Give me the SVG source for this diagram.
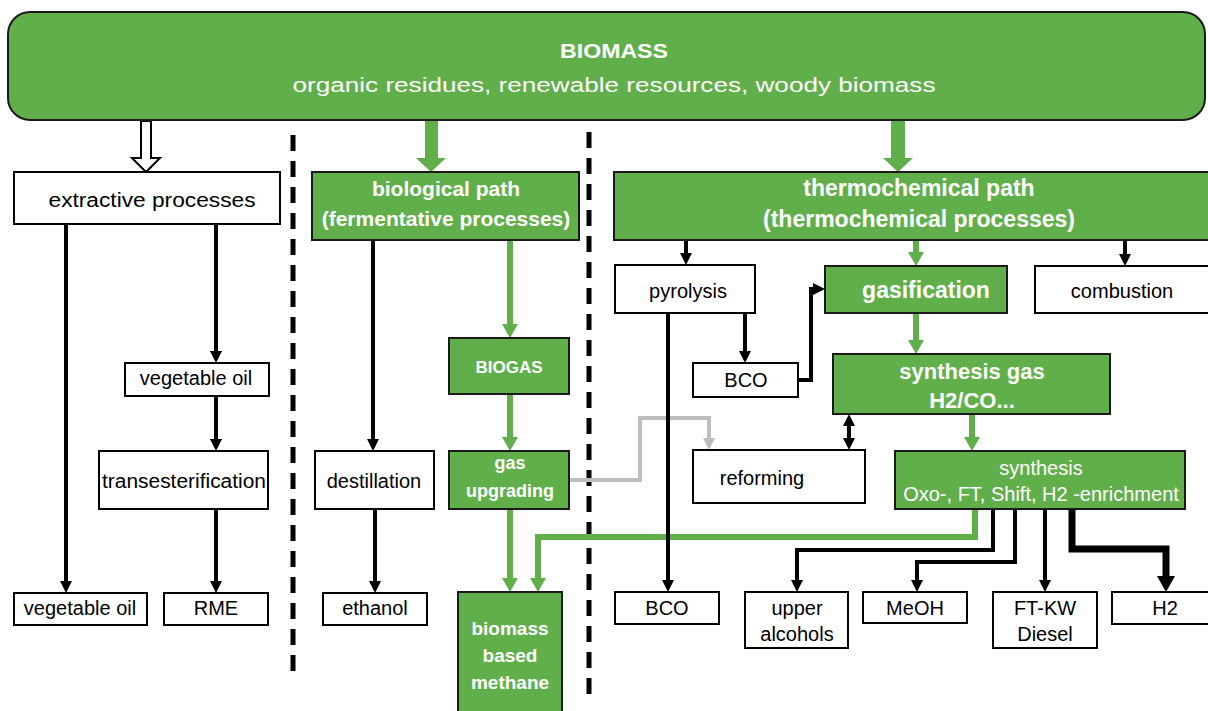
<svg xmlns="http://www.w3.org/2000/svg" width="1208" height="711" viewBox="0 0 1208 711">
<style>
  .wb { fill: #ffffff; stroke: #000000; stroke-width: 2; }
  .gb { fill: #61af4b; stroke: #1a1a1a; stroke-width: 2; }
  text { font-family: "Liberation Sans", Arial, sans-serif; text-anchor: middle; }
  .t { font-size: 20px; fill: #000000; }
  .tw { font-size: 20px; fill: #ffffff; }
  .bw { font-weight: bold; fill: #ffffff; }
  .blk { fill: none; stroke: #000000; stroke-width: 4; marker-end: url(#ab); }
  .grn { fill: none; stroke: #61af4b; stroke-width: 6; marker-end: url(#ag); }
  .gry { fill: none; stroke: #bdbdbd; stroke-width: 4; marker-end: url(#ay); }
  .dash { fill: none; stroke: #000000; stroke-width: 5; stroke-dasharray: 16 10; }
</style>
<defs>
  <marker id="ab" markerUnits="userSpaceOnUse" markerWidth="12" markerHeight="12" refX="6" refY="6" orient="auto-start-reverse">
    <path d="M0,0 L12,6 L0,12 z" fill="#000000"/>
  </marker>
  <marker id="ay" markerUnits="userSpaceOnUse" markerWidth="12" markerHeight="12" refX="6" refY="6" orient="auto">
    <path d="M0,0 L12,6 L0,12 z" fill="#bdbdbd"/>
  </marker>
  <marker id="ag" markerUnits="userSpaceOnUse" markerWidth="14" markerHeight="16" refX="7" refY="8" orient="auto">
    <path d="M0,0 L14,8 L0,16 z" fill="#61af4b"/>
  </marker>
  <marker id="abig" markerUnits="userSpaceOnUse" markerWidth="16" markerHeight="18" refX="8" refY="9" orient="auto">
    <path d="M0,0 L16,9 L0,18 z" fill="#000000"/>
  </marker>
</defs>
<rect width="1208" height="711" fill="#ffffff"/>

<g id="dividers">
  <path class="dash" d="M293,135 V680"/>
  <path class="dash" d="M589,132 V695"/>
</g>

<g id="connectors">
  <polygon points="141,121 151,121 151,158 160,158 146,172 132,158 141,158" fill="#ffffff" stroke="#000000" stroke-width="2"/>
  <polygon points="425,119 438,119 438,158 446,158 431,172 416,158 425,158" fill="#61af4b"/>
  <polygon points="891,119 905,119 905,158 913,158 898,172 883,158 891,158" fill="#61af4b"/>
  <path class="gry" d="M569,480 H640 V418 H709 V444"/>
  <path class="grn" d="M510,240 V331"/>
  <path class="grn" d="M510,394 V444"/>
  <path class="grn" d="M510,509 V585"/>
  <path class="grn" d="M916,240 V259"/>
  <path class="grn" d="M916,313 V347"/>
  <path class="grn" d="M972,414 V444"/>
  <path class="grn" d="M975,509 V537 H538 V585"/>
  <path class="blk" d="M66,224 V587"/>
  <path class="blk" d="M216,224 V357"/>
  <path class="blk" d="M216,396 V445"/>
  <path class="blk" d="M216,509 V587"/>
  <path class="blk" d="M373,240 V445"/>
  <path class="blk" d="M375,509 V587"/>
  <path class="blk" d="M686,240 V259"/>
  <path class="blk" d="M1125,240 V260"/>
  <path class="blk" d="M668,313 V586"/>
  <path class="blk" d="M745,313 V357"/>
  <path class="blk" d="M798,380 H811 V289 H819"/>
  <path class="blk" d="M849,420 V444" marker-start="url(#ab)"/>
  <path class="blk" d="M993,509 V550 H797 V586"/>
  <path class="blk" d="M1015,509 V562 H917 V586"/>
  <path class="blk" d="M1045,509 V586"/>
  <path d="M1072,509 V549 H1166 V584" fill="none" stroke="#000000" stroke-width="7" marker-end="url(#abig)"/>
</g>

<g id="biomass">
  <rect class="gb" x="8" y="12" width="1197" height="108" rx="22"/>
  <text class="bw" x="614" y="58" font-size="21" textLength="108" lengthAdjust="spacingAndGlyphs">BIOMASS</text>
  <text class="tw" x="614" y="92" font-size="24" textLength="643" lengthAdjust="spacingAndGlyphs">organic residues, renewable resources, woody biomass</text>
</g>

<g id="extractive">
  <rect class="wb" x="14" y="172" width="266" height="52"/>
  <text class="t" x="152" y="207" font-size="23" textLength="207" lengthAdjust="spacingAndGlyphs">extractive processes</text>
</g>
<g id="vegoil-mid">
  <rect class="wb" x="125" y="363" width="144" height="33"/>
  <text class="t" x="196" y="385">vegetable oil</text>
</g>
<g id="transesterification">
  <rect class="wb" x="99" y="451" width="169" height="58"/>
  <text class="t" x="184" y="488" font-size="21" textLength="164" lengthAdjust="spacingAndGlyphs">transesterification</text>
</g>
<g id="vegoil-out">
  <rect class="wb" x="14" y="593" width="133" height="32"/>
  <text class="t" x="80" y="615">vegetable oil</text>
</g>
<g id="rme">
  <rect class="wb" x="164" y="593" width="104" height="32"/>
  <text class="t" x="216" y="615">RME</text>
</g>

<g id="biological">
  <rect class="gb" x="312" y="172" width="267" height="68"/>
  <text class="bw" x="446" y="196" font-size="21">biological path</text>
  <text class="bw" x="446" y="226" font-size="21">(fermentative processes)</text>
</g>
<g id="biogas">
  <rect class="gb" x="449" y="338" width="120" height="56"/>
  <text class="bw" x="509" y="373" font-size="17">BIOGAS</text>
</g>
<g id="gas-upgrading">
  <rect class="gb" x="449" y="451" width="120" height="58"/>
  <text class="bw" x="510" y="469" font-size="18">gas</text>
  <text class="bw" x="510" y="497" font-size="18">upgrading</text>
</g>
<g id="destillation">
  <rect class="wb" x="315" y="451" width="119" height="58"/>
  <text class="t" x="374" y="488">destillation</text>
</g>
<g id="ethanol">
  <rect class="wb" x="323" y="593" width="104" height="32"/>
  <text class="t" x="375" y="615">ethanol</text>
</g>
<g id="methane">
  <rect class="gb" x="458" y="592" width="104" height="130"/>
  <text class="bw" x="510" y="635" font-size="19">biomass</text>
  <text class="bw" x="510" y="662" font-size="19">based</text>
  <text class="bw" x="510" y="689" font-size="19">methane</text>
</g>

<g id="thermochemical">
  <rect class="gb" x="614" y="172" width="600" height="68"/>
  <text class="bw" x="919" y="196" font-size="23">thermochemical path</text>
  <text class="bw" x="919" y="227" font-size="23">(thermochemical processes)</text>
</g>
<g id="pyrolysis">
  <rect class="wb" x="615" y="265" width="140" height="48"/>
  <text class="t" x="688" y="298">pyrolysis</text>
</g>
<g id="gasification">
  <rect class="gb" x="825" y="266" width="182" height="47"/>
  <text class="bw" x="926" y="298" font-size="23">gasification</text>
</g>
<g id="combustion">
  <rect class="wb" x="1035" y="266" width="180" height="47"/>
  <text class="t" x="1122" y="298">combustion</text>
</g>
<g id="bco-mid">
  <rect class="wb" x="693" y="363" width="105" height="34"/>
  <text class="t" x="746" y="387">BCO</text>
</g>
<g id="synthesis-gas">
  <rect class="gb" x="833" y="354" width="277" height="60"/>
  <text class="bw" x="972" y="379" font-size="22">synthesis gas</text>
  <text class="bw" x="972" y="408" font-size="22">H2/CO...</text>
</g>
<g id="reforming">
  <rect class="wb" x="693" y="450" width="172" height="53"/>
  <text class="t" x="762" y="485">reforming</text>
</g>
<g id="synthesis">
  <rect class="gb" x="895" y="451" width="290" height="58"/>
  <text class="tw" x="1041" y="475">synthesis</text>
  <text class="tw" x="1041" y="501">Oxo-, FT, Shift, H2 -enrichment</text>
</g>
<g id="bco-out">
  <rect class="wb" x="615" y="592" width="104" height="32"/>
  <text class="t" x="667" y="615">BCO</text>
</g>
<g id="upper-alcohols">
  <rect class="wb" x="745" y="592" width="103" height="56"/>
  <text class="t" x="797" y="615">upper</text>
  <text class="t" x="797" y="641">alcohols</text>
</g>
<g id="meoh">
  <rect class="wb" x="863" y="592" width="104" height="31"/>
  <text class="t" x="915" y="615">MeOH</text>
</g>
<g id="ftkw">
  <rect class="wb" x="993" y="592" width="104" height="56"/>
  <text class="t" x="1045" y="615">FT-KW</text>
  <text class="t" x="1045" y="641">Diesel</text>
</g>
<g id="h2">
  <rect class="wb" x="1112" y="592" width="100" height="32"/>
  <text class="t" x="1165" y="615">H2</text>
</g>
</svg>
